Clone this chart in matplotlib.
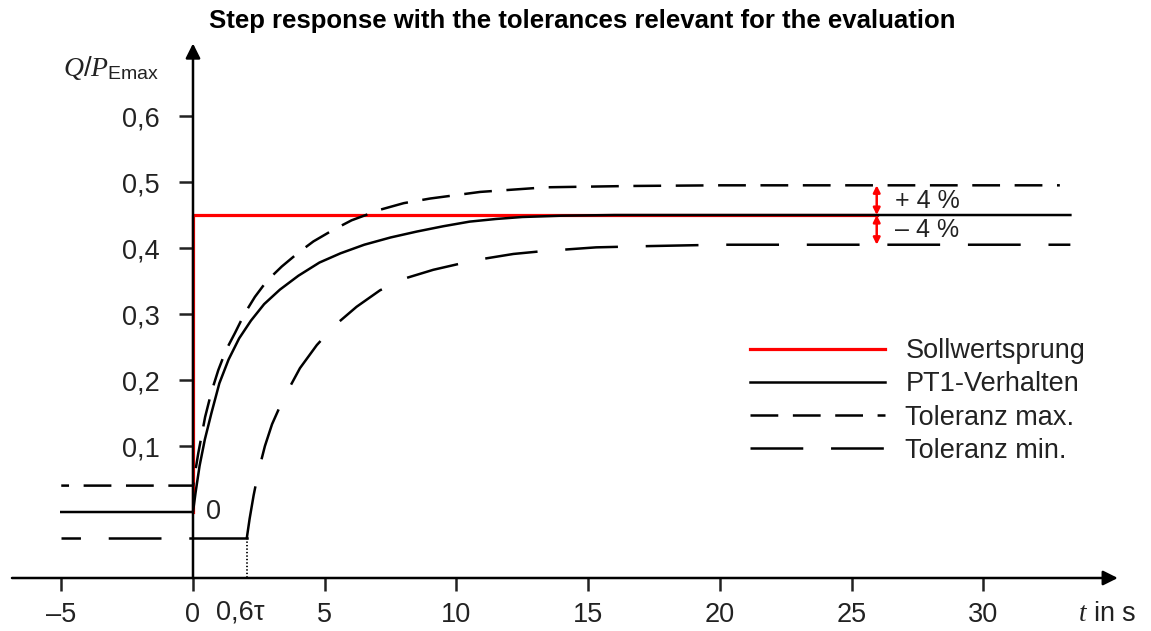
import matplotlib
matplotlib.use("Agg")
import matplotlib.pyplot as plt
from matplotlib.lines import Line2D

# values
t_pt1 = [-5, 0, 0.1, 0.25, 0.45, 0.7, 1.0, 1.35, 1.75, 2.2, 2.7, 3.3, 4.0, 4.8, 5.6, 6.5,
         7.5, 8.5, 9.5, 10.5, 11.5, 12.5, 14, 16, 20, 26, 33.3]
y_pt1 = [0, 0, 0.03, 0.07, 0.11, 0.150, 0.195, 0.231, 0.263, 0.290, 0.315, 0.337, 0.358,
         0.378, 0.392, 0.405, 0.416, 0.425, 0.433, 0.440, 0.444, 0.447, 0.449, 0.45, 0.45,
         0.45, 0.45]

t_set = [0, 0, 25.95]
y_set = [0, 0.45, 0.45]

t_max = [-5, 0, 0.2, 0.46, 0.7, 0.96, 1.25, 1.59, 1.95, 2.35, 2.8, 3.37, 4.0, 4.57, 5.3,
         6.02, 7.1, 8.0, 9.0, 10.9, 13.4, 16.6, 20, 32.9]
y_max = [0.04, 0.04, 0.089, 0.144, 0.182, 0.215, 0.245, 0.271, 0.300, 0.326, 0.350, 0.372,
         0.393, 0.41, 0.427, 0.442, 0.458, 0.468, 0.475, 0.485, 0.492, 0.494, 0.495, 0.495]

t_min_pre = [-5, 0]
y_min_pre = [-0.04, -0.04]
t_dead = [0, 2.04]          # 0,6 tau dead time
y_dead = [-0.04, -0.04]
t_min = [2.04, 2.15, 2.3, 2.48, 2.73, 3.0, 3.3, 3.56, 4.06, 4.7, 5.39, 6.21, 7.1, 8.05,
         9.12, 10.1, 11.08, 12.16, 13.2, 14.24, 15.3, 17.4, 20, 25, 33.3]
y_min = [-0.04, -0.01, 0.025, 0.061, 0.100, 0.133, 0.160, 0.181, 0.218, 0.253, 0.283,
         0.311, 0.336, 0.354, 0.367, 0.376, 0.384, 0.391, 0.395, 0.398, 0.401, 0.403,
         0.405, 0.405, 0.405]

x_ticks = [-5, 0, 5, 10, 15, 20, 25, 30]
x_labels = ['\u20135', '0', '5', '10', '15', '20', '25', '30']
y_ticks = [0.1, 0.2, 0.3, 0.4, 0.5, 0.6]
y_labels = ['0,1', '0,2', '0,3', '0,4', '0,5', '0,6']

plt.rcParams['font.family'] = ['Liberation Sans', 'DejaVu Sans']
plt.rcParams['mathtext.fontset'] = 'custom'
plt.rcParams['mathtext.it'] = 'Liberation Serif:italic'
plt.rcParams['mathtext.rm'] = 'Liberation Sans'
plt.rcParams['lines.scale_dashes'] = False

fs = 19.5
txt = '#222222'
lw = 1.8
dash_max = (20, 10.5)
dash_min = (38, 20)

fig = plt.figure(figsize=(11.51, 6.31), dpi=100)
ax = fig.add_axes([0, 0, 1, 1])
ax.set_xlim(-7.325, 36.36)
ax.set_ylim(-0.1803, 0.7758)
ax.patch.set_alpha(0)

ax.plot(t_set, y_set, color='#ff0000', lw=2.3, zorder=2)
ax.plot(t_pt1, y_pt1, color='k', lw=lw, zorder=3)
ax.plot(t_max, y_max, color='k', lw=lw, ls=(14.4, dash_max), zorder=3)
ax.plot(t_min_pre, y_min_pre, color='k', lw=lw, ls=(24, dash_min), zorder=3)
ax.plot(t_dead, y_dead, color='k', lw=lw, zorder=3)
ax.plot(t_min, y_min, color='k', lw=lw, ls=(0, dash_min), zorder=3)
ax.plot([t_dead[1], t_dead[1]], [-0.04, -0.1], color='k', lw=1.3, ls=(0, (1, 1.5)), zorder=3)

# axes with arrows
ax.annotate('', xy=(35.1, -0.1), xytext=(-6.87, -0.1),
            arrowprops=dict(arrowstyle='-|>', lw=lw, color='k', mutation_scale=22,
                            shrinkA=0, shrinkB=0), annotation_clip=False)
ax.annotate('', xy=(0, 0.71), xytext=(0, -0.1),
            arrowprops=dict(arrowstyle='-|>', lw=lw, color='k', mutation_scale=22,
                            shrinkA=0, shrinkB=0), annotation_clip=False)

for s in ax.spines.values():
    s.set_visible(False)
ax.spines['bottom'].set_position(('data', -0.1))
ax.spines['left'].set_position(('data', 0))
ax.set_xticks(x_ticks, x_labels)
ax.set_yticks(y_ticks, y_labels)
ax.tick_params(axis='x', direction='out', length=9.5, width=lw, pad=8, labelsize=fs,
               colors=txt)
ax.tick_params(axis='y', direction='out', length=10, width=lw, pad=14, labelsize=fs,
               colors=txt)

# tolerance band arrows
for y0, y1 in [(0.45, 0.495), (0.45, 0.405)]:
    ax.annotate('', xy=(25.95, y1), xytext=(25.95, y0),
                arrowprops=dict(arrowstyle='<|-|>', lw=1.8, color='#ff0000',
                                mutation_scale=10, shrinkA=0, shrinkB=0))
ax.text(26.65, 0.471, '+ 4 %', fontsize=18, va='center', ha='left', color=txt)
ax.text(26.65, 0.427, '\u2013 4 %', fontsize=18, va='center', ha='left', color=txt)

ax.text(0.5, 0.0, '0', fontsize=fs, va='center', ha='left', color=txt)
ax.text(1.78, -0.153, '0,6\u03c4', fontsize=fs, va='center', ha='center', color=txt)
ax.text(-1.3, 0.673, r'$Q/P_{\mathrm{Emax}}$', fontsize=20, va='center', ha='right',
        color=txt)
ax.text(33.6, -0.155, r'$t$ in s', fontsize=fs, va='center', ha='left', color=txt)

fig.text(0.506, 0.966, 'Step response with the tolerances relevant for the evaluation',
         fontsize=18.5, fontweight='bold', ha='center', va='center')

handles = [Line2D([], [], color='#ff0000', lw=2.3),
           Line2D([], [], color='k', lw=lw),
           Line2D([], [], color='k', lw=lw, ls=(0, dash_max)),
           Line2D([], [], color='k', lw=lw, ls=(0, dash_min))]
labels = ['Sollwertsprung', 'PT1-Verhalten', 'Toleranz max.', 'Toleranz min.']
ax.legend(handles, labels, loc='upper left', bbox_to_anchor=(750 / 1151, 1 - 338 / 631),
          bbox_transform=fig.transFigure, frameon=False, fontsize=fs,
          handlelength=5.0, handletextpad=0.74, labelspacing=0.27, borderpad=0,
          borderaxespad=0, labelcolor=txt)

fig.savefig('out.png', dpi=100)
